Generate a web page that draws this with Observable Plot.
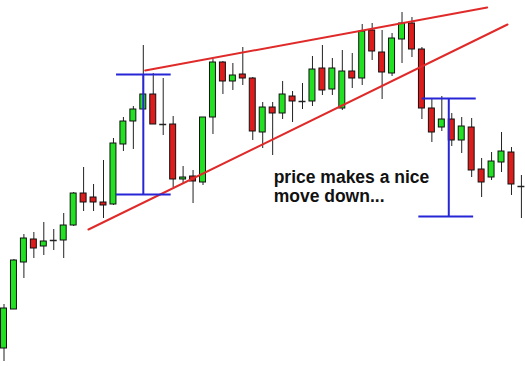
<!DOCTYPE html>
<html>
<head>
<meta charset="utf-8">
<script src="https://cdn.jsdelivr.net/npm/d3@7"></script>
<script src="https://cdn.jsdelivr.net/npm/@observablehq/plot@0.6"></script>
<style>
  html, body { margin: 0; padding: 0; background: #fff; }
  #chart svg { display: block; }
</style>
</head>
<body>
<div id="chart"></div>
<script>
// Candle OHLC values (price units)
const opens  = [18,57,104,127,120,126,126,141,173,169,164,162,222,245,257,272,242,242,187,190,184,249,304,285,292,288,234,259,253,270,265,265,298,277,258,295,288,336,314,293,327,343,317,258,239,247,226,239,197,189,204,214,180];
const highs  = [62,107,132,134,144,137,153,174,199,182,206,228,249,260,321,293,288,250,200,196,249,307,305,303,319,289,264,264,285,275,283,310,321,308,316,313,342,343,336,333,354,349,319,267,270,253,249,248,208,214,234,219,191];
const lows   = [5,57,88,108,111,116,108,140,155,155,148,161,215,217,257,242,231,179,183,163,181,232,272,276,281,226,218,211,247,244,257,260,271,271,256,278,281,306,267,290,303,309,247,224,235,220,213,189,169,186,194,171,148];
const closes = [58,106,128,118,125,126,141,173,164,164,161,223,245,257,272,242,242,187,189,185,249,304,285,291,288,235,259,253,272,265,265,297,276,298,295,288,335,315,294,328,343,317,258,234,247,226,240,196,184,205,215,182,180];

// Trend lines of the rising wedge (index, price)
const upperLine = [{i: 14.19, p: 296}, {i: 48.56, p: 359}];
const lowerLine = [{i: 8.49, p: 137}, {i: 50.6, p: 342}];

// Height-measure markers: vertical extent and horizontal caps
const measures = [
  {i: 14.0, top: 292, bottom: 172, capTop: [11.31, 16.8], capBottom: [11.31, 16.8]},
  {i: 44.7, top: 268, bottom: 150, capTop: [42.03, 47.46], capBottom: [41.69, 47.2]}
];

const noteLines = ["price makes a nice", "move down..."];
const note = {i: 27.1, p: 197.5, text: noteLines.join("\n")};

const candles = opens.map((o, i) => ({i, o, h: highs[i], l: lows[i], c: closes[i]}));
const bodies = candles.filter(d => d.o !== d.c);
const dojis = candles.filter(d => d.o === d.c);

const caps = measures.flatMap(m => [
  {x1: m.capTop[0], x2: m.capTop[1], y: m.top},
  {x1: m.capBottom[0], x2: m.capBottom[1], y: m.bottom}
]);

const W = 525, H = 366;
const chart = Plot.plot({
  width: W,
  height: H,
  margin: 0,
  x: {domain: [-0.352, 52.41], axis: null},
  y: {domain: [0, 366], axis: null},
  style: {background: "#fff", overflow: "visible"},
  marks: [
    // wicks
    Plot.ruleX(candles, {x: "i", y1: "l", y2: "h", stroke: "#222", strokeWidth: 1}),
    // bodies
    Plot.rect(bodies, {
      x1: d => d.i - 0.3, x2: d => d.i + 0.3,
      y1: "o", y2: "c",
      fill: d => d.c > d.o ? "#22e022" : "#dd1c1c",
      stroke: "#111", strokeWidth: 1
    }),
    // doji bars
    Plot.ruleY(dojis, {y: "o", x1: d => d.i - 0.35, x2: d => d.i + 0.35, stroke: "#222", strokeWidth: 1.5}),
    // wedge lines
    Plot.line(upperLine, {x: "i", y: "p", stroke: "#e02a2a", strokeWidth: 2}),
    Plot.line(lowerLine, {x: "i", y: "p", stroke: "#e02a2a", strokeWidth: 2}),
    // measure markers
    Plot.ruleX(measures, {x: "i", y1: "bottom", y2: "top", stroke: "#2626d6", strokeWidth: 2}),
    Plot.ruleY(caps, {y: "y", x1: "x1", x2: "x2", stroke: "#2626d6", strokeWidth: 2}),
    // annotation
    Plot.text([note], {
      x: "i", y: "p", text: "text",
      textAnchor: "start", lineAnchor: "top", lineHeight: 1.1,
      fontSize: 17.5, fontWeight: "bold", fill: "#111",
      fontFamily: "Liberation Sans, Arial, sans-serif"
    })
  ]
});
document.getElementById("chart").appendChild(chart);
</script>
</body>
</html>
